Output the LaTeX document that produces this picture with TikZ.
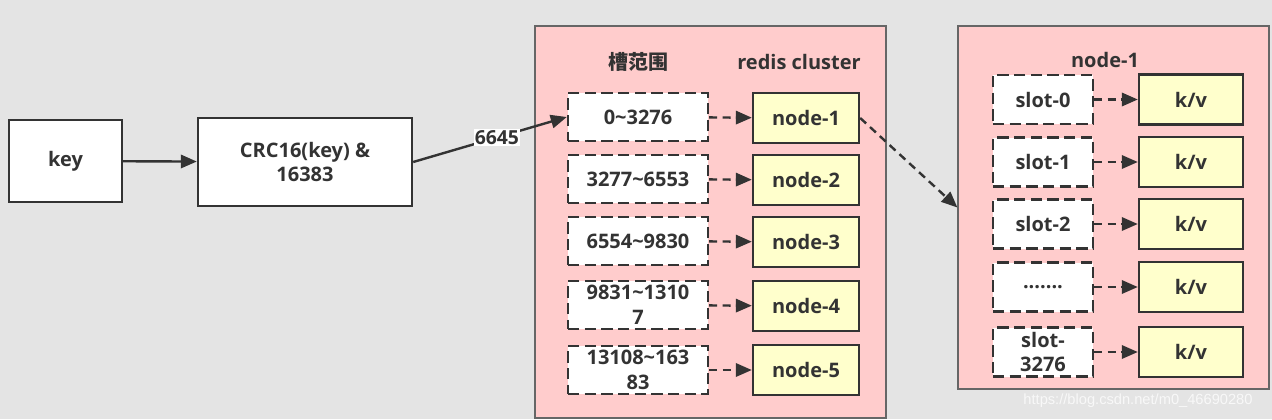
\documentclass[tikz,border=0pt]{standalone}
\usepackage{fontspec}
\setmainfont{Open Sans}
\newfontfamily\cjk{Noto Sans CJK SC}
\newfontfamily\wmfont{Liberation Sans}
\usetikzlibrary{arrows.meta}
\definecolor{bg}{HTML}{E4E4E4}
\definecolor{pinkbg}{HTML}{FFCCCC}
\definecolor{ylw}{HTML}{FFFFCC}
\definecolor{ink}{HTML}{333333}
\definecolor{frame}{HTML}{666666}
\begin{document}
\begin{tikzpicture}[x=0.75pt,y=-0.75pt,
  txt/.style={font=\fontsize{15}{18.5}\selectfont\bfseries, text=ink, align=center, inner sep=0pt},
  sz/.style 2 args={minimum width=#1*0.75pt, minimum height=#2*0.75pt},
  solidbox/.style={txt, draw=ink, line width=1.8pt, fill=white},
  rangebox/.style={txt, draw=ink, line width=1.8pt, fill=white, dash pattern=on 8.5pt off 4pt, sz={140}{48}},
  slotbox/.style={txt, draw=ink, line width=1.8pt, fill=white, dash pattern=on 8.5pt off 4pt, sz={100}{49}},
  nodebox/.style={txt, draw=ink, line width=1.8pt, fill=ylw, sz={106}{50}},
  kvbox/.style={txt, draw=ink, line width=1.8pt, fill=ylw, sz={104}{50}},
  container/.style={draw=frame, line width=0.9pt, fill=pinkbg, inner sep=0pt},
  conn/.style={draw=ink, line width=1.8pt, -{Triangle[length=12pt,width=10pt]}},
  dconn/.style={conn, dash pattern=on 6pt off 4pt}
]
\useasboundingbox (0,0) rectangle (1272,419);
\fill[bg] (0,0) rectangle (1272,419);

\node[solidbox, sz={113}{82}] (key) at (65.5,161) {key};
\node[solidbox, sz={214}{88}] (crc) at (305,162) {CRC16(key) \&\\16383};

\node[container, sz={351}{392}] (cluster) at (710.5,222) {};
\node[txt] (h1) at (638,62) {\cjk\bfseries 槽范围};
\node[txt] (h2) at (799,62) {redis cluster};

\node[rangebox] (r1) at (638,117) {0\textasciitilde 3276};
\node[rangebox] (r2) at (638,179) {3277\textasciitilde 6553};
\node[rangebox] (r3) at (638,241) {6554\textasciitilde 9830};
\node[rangebox] (r4) at (638,305) {9831\textasciitilde 1310\\7};
\node[rangebox] (r5) at (638,370) {13108\textasciitilde 163\\83};

\node[nodebox] (c1) at (806,118) {node-1};
\node[nodebox] (c2) at (806,180) {node-2};
\node[nodebox] (c3) at (806,242) {node-3};
\node[nodebox] (c4) at (806,306) {node-4};
\node[nodebox] (c5) at (806,370) {node-5};

\node[container, sz={311}{363}] (n1box) at (1113.5,207.5) {};
\node[txt] (h3) at (1105,60) {node-1};

\node[slotbox] (s1) at (1043,99.5) {slot-0};
\node[slotbox] (s2) at (1043,162) {slot-1};
\node[slotbox] (s3) at (1043,224) {slot-2};
\node[slotbox] (s4) at (1043,287) {.......};
\node[slotbox] (s5) at (1043,352) {slot-\\3276};

\node[kvbox] (k1) at (1191,99.5) {k/v};
\node[kvbox] (k2) at (1191,162) {k/v};
\node[kvbox] (k3) at (1191,224) {k/v};
\node[kvbox] (k4) at (1191,287) {k/v};
\node[kvbox] (k5) at (1191,352) {k/v};

\draw[conn] (key) -- (crc);
\draw[conn] (crc.east) -- node[pos=0.545, fill=white, inner sep=1pt, font=\fontsize{14.5}{17}\selectfont\bfseries, text=ink] (lbl) {6645} (r1.west);

\foreach \i in {1,...,5} {
  \draw[dconn] (r\i) -- (c\i);
  \draw[dconn] (s\i) -- (k\i);
}
\draw[dconn] (c1.east) -- (n1box.west);

\node[font=\wmfont\fontsize{11}{13}\selectfont, text=white, opacity=0.75] (wm) at (1138,401) {https://blog.csdn.net/m0\_46690280};
\end{tikzpicture}
\end{document}
